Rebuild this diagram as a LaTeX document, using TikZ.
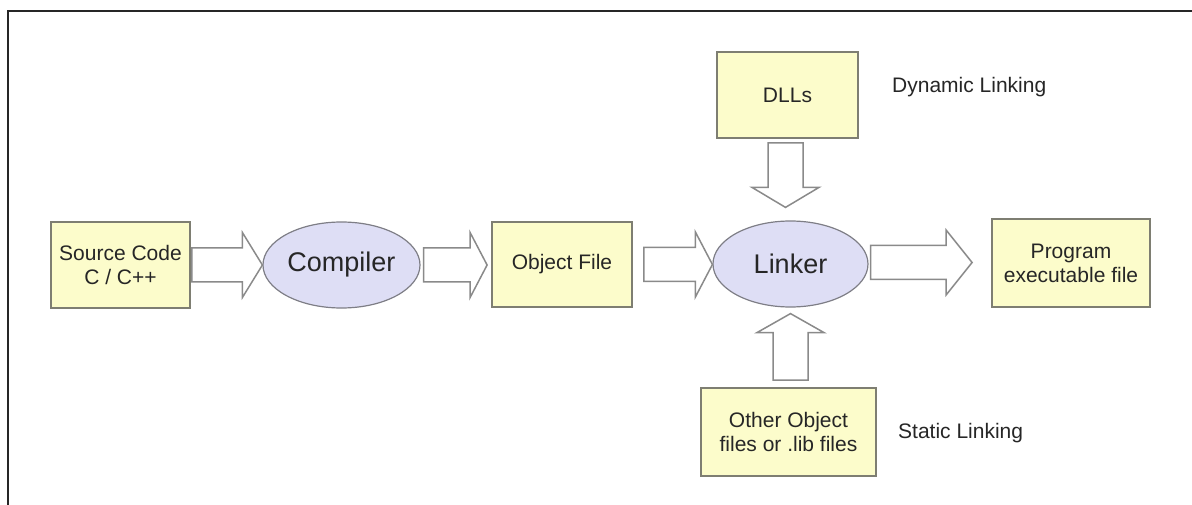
\documentclass[tikz,border=0pt]{standalone}
\usepackage{fontspec}
\setmainfont{Liberation Sans}
\usetikzlibrary{shapes.geometric,calc}

\definecolor{boxfill}{HTML}{FCFCCB}
\definecolor{boxline}{HTML}{7E7E72}
\definecolor{ellfill}{HTML}{DEDEF5}
\definecolor{ellline}{HTML}{7E7E86}
\definecolor{arrline}{HTML}{8A8A8A}
\definecolor{txt}{HTML}{262626}

% horizontal block arrow: tail point, tip point, head length
\newcommand\hblockarrow[3]{%
  \draw[blockarr] let \p1=#1, \p2=#2 in
    (\x1,\y1+17pt) -- (\x2-#3,\y1+17pt) -- (\x2-#3,\y1+32.5pt) -- (\x2,\y1)
    -- (\x2-#3,\y1-32.5pt) -- (\x2-#3,\y1-17pt) -- (\x1,\y1-17pt) -- cycle;}
% vertical block arrow pointing down
\newcommand\dblockarrow[3]{%
  \draw[blockarr] let \p1=#1, \p2=#2 in
    (\x1-17.5pt,\y1) -- (\x1-17.5pt,\y2+#3) -- (\x1-33.5pt,\y2+#3) -- (\x1,\y2)
    -- (\x1+33.5pt,\y2+#3) -- (\x1+17.5pt,\y2+#3) -- (\x1+17.5pt,\y1) -- cycle;}
% vertical block arrow pointing up
\newcommand\ublockarrow[3]{%
  \draw[blockarr] let \p1=#1, \p2=#2 in
    (\x1-17.5pt,\y1) -- (\x1-17.5pt,\y2-#3) -- (\x1-33.5pt,\y2-#3) -- (\x1,\y2)
    -- (\x1+33.5pt,\y2-#3) -- (\x1+17.5pt,\y2-#3) -- (\x1+17.5pt,\y1) -- cycle;}

\begin{document}
\begin{tikzpicture}[x=1pt,y=-1pt,
  filebox/.style={draw=boxline, line width=1.8pt, fill=boxfill, rectangle,
    inner sep=0pt, align=center, text=txt,
    font=\fontsize{21}{24}\selectfont},
  tool/.style={draw=ellline, line width=1.2pt, fill=ellfill, ellipse,
    inner sep=0pt, text=txt, font=\fontsize{27}{30}\selectfont},
  blockarr/.style={draw=arrline, line width=1.5pt, fill=white, line join=miter},
  note/.style={anchor=west, inner sep=0pt, text=txt,
    font=\fontsize{21}{24}\selectfont}]

\useasboundingbox (0,0) rectangle (1192,505);

% frame
\draw[line width=1.6pt, draw=black!85] (8,505) -- (8,11) -- (1192,11);

% nodes
\node[filebox, minimum width=139pt, minimum height=86pt] (src) at (120.5,265) {Source Code\\C / C++};
\node[tool, minimum width=157pt, minimum height=86pt] (cmp) at (341.5,265) {Compiler};
\node[filebox, minimum width=140pt, minimum height=85pt] (obj) at (562,264.5) {Object File};
\node[tool, minimum width=155pt, minimum height=86pt] (lnk) at (790.5,264) {Linker};
\node[filebox, minimum width=158pt, minimum height=88pt] (prog) at (1071,263) {Program\\executable file};
\node[filebox, minimum width=141pt, minimum height=86pt] (dll) at (787.5,95) {DLLs};
\node[filebox, minimum width=175pt, minimum height=88pt] (oth) at (788.5,432) {Other Object\\files or .lib files};

\node[note] (dyn) at (892,87) {Dynamic Linking};
\node[note] (sta) at (898,433) {Static Linking};

% block arrows
\hblockarrow{($(src.east)+(1,0)$)}{(cmp.west)}{20pt}
\hblockarrow{($(cmp.east)+(3,0)$)}{($(obj.west)+(-4,0)$)}{17pt}
\hblockarrow{($(obj.east)+(11,0)$)}{(lnk.west)}{17pt}
\hblockarrow{($(lnk.east)+(2,-1.5)$)}{($(prog.west)+(-19,0)$)}{26pt}
\dblockarrow{($(dll.south)+(-2,4)$)}{($(lnk.north)+(0,-13)$)}{20pt}
\ublockarrow{($(oth.north)+(2,-7)$)}{($(lnk.south)+(0,6)$)}{19pt}

\end{tikzpicture}
\end{document}
